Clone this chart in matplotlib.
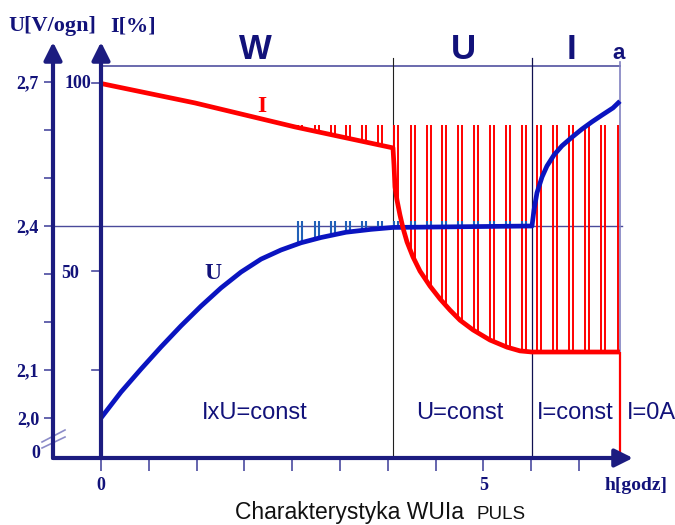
import numpy as np
import matplotlib.pyplot as plt

# charging voltage U [V/cell] against time [h]
u_hours = [0.0, 0.261, 0.523, 0.784, 1.046, 1.307, 1.569, 1.830, 2.092, 2.353,
           2.614, 2.876, 3.203, 3.529, 3.817, 5.634, 5.660, 5.699, 5.765, 5.830,
           5.922, 6.026, 6.157, 6.288, 6.418, 6.549, 6.693, 6.784]
u_volts = [2.000, 2.054, 2.102, 2.148, 2.192, 2.233, 2.271, 2.304, 2.331, 2.350,
           2.365, 2.376, 2.387, 2.393, 2.397, 2.400, 2.433, 2.469, 2.502, 2.525,
           2.548, 2.567, 2.585, 2.602, 2.617, 2.631, 2.646, 2.660]

# charging current I [%] against time [h]
i_hours = [0.0, 1.229, 2.536, 3.817, 3.830, 3.843, 3.869, 3.908, 3.948, 4.000,
           4.078, 4.170, 4.301, 4.431, 4.562, 4.693, 4.863, 5.085, 5.307, 5.477,
           5.634, 6.784]
i_percent = [100, 94.8, 88.4, 82.8, 78.2, 72.4, 68.9, 64.9, 61.4, 57.7,
             53.7, 49.9, 45.9, 42.5, 39.5, 36.8, 34.2, 31.5, 29.6, 28.6,
             28.3, 28.3]

# pulse pairs (start of each pair) [h]
pulse_hours = [2.575, 2.797, 3.007, 3.203, 3.412, 3.621, 3.830, 4.052, 4.261,
               4.458, 4.667, 4.876, 5.085, 5.294, 5.503, 5.699, 5.908, 6.118,
               6.327, 6.536, 6.758]
pulse_top_i = 88.9
pulse_top_u = 2.41

phase_bounds = [3.817, 5.634, 6.784]
phase_names = ["W", "U", "I"]
phase_centers = [2.013, 4.732, 6.157]
mode_texts = ["IxU=const", "U=const", "I=const"]
mode_centers = [2.013, 4.693, 6.196]

u_ticks = [2.0, 2.1, 2.2, 2.3, 2.4, 2.5, 2.6, 2.7]
u_ticklabels = ["2,0", "2,1", "", "", "2,4", "", "", "2,7"]
x_ticks = [0, 0.625, 1.25, 1.875, 2.5, 3.125, 3.75, 4.375, 5.0, 5.625, 6.25]
x_ticklabels = ["0", "", "", "", "", "", "", "", "5", "", ""]

NAVY = "#1c1c80"
TEXT = "#12127a"
TICK = "#4a4aa0"
BLUE = "#0a14c0"
PBLUE = "#2060b8"
RED = "#ff0000"
SANS = "Liberation Sans"
SERIF = "Liberation Serif"

Y_ZERO = 2.0 - 40 / 480
I100 = 2.6969


def i_to_y(i):
    return Y_ZERO + np.asarray(i) / 100 * (I100 - Y_ZERO)


fig = plt.figure(figsize=(6.75, 5.25), dpi=100)
ax = fig.add_axes([53 / 675, 67 / 525, 587 / 675, 418 / 525])
x_left, x_right = -0.6275, 7.046
ax.set_xlim(x_left, x_right)
ax.set_ylim(Y_ZERO, 2.7875)
for s in ax.spines.values():
    s.set_visible(False)

ax.set_yticks(u_ticks)
ax.set_yticklabels(u_ticklabels, fontfamily=SERIF, fontweight="bold")
ax.set_xticks(x_ticks)
ax.set_xticklabels(x_ticklabels, fontfamily=SERIF, fontweight="bold")
ax.tick_params(axis="y", direction="out", length=6.5, width=1.2, color=TICK,
               pad=3.5, labelsize=13, labelcolor=TEXT)
ax.tick_params(axis="x", direction="out", length=9, width=1.2, color=TICK,
               pad=4.5, labelsize=13, labelcolor=TEXT)

# guide lines
end_h = phase_bounds[-1]
ax.plot([x_left, end_h + 0.03], [2.4, 2.4], color="#4a4a9a", lw=1, zorder=1)
ax.plot([0, end_h], [2.7333, 2.7333], color="#5050a0", lw=1.2, zorder=1)
ax.plot([phase_bounds[0]] * 2, [Y_ZERO, 2.75], color="#202020", lw=0.8, zorder=1)
ax.plot([phase_bounds[1]] * 2, [Y_ZERO, 2.75], color="#101050", lw=0.9, zorder=1)
ax.plot([end_h] * 2, [i_to_y(i_percent[-1]), 2.7417], color="#8080c0", lw=1.2, zorder=1)

# pulses
p1 = np.array(pulse_hours)
p_all = np.concatenate([p1, p1[:-1] + 0.052])
red_bottom = i_to_y(np.interp(p_all, i_hours, i_percent))
ax.vlines(p_all, red_bottom, i_to_y(pulse_top_i), color=RED, lw=1.4, zorder=2)
p_blue = p_all[p_all < 5.6]
blue_bottom = np.interp(p_blue, u_hours, u_volts)
ax.vlines(p_blue, blue_bottom, pulse_top_u, color=PBLUE, lw=1.5, zorder=3)

# curves
ax.plot(u_hours, u_volts, color=BLUE, lw=3.4, zorder=4, solid_capstyle="butt",
        solid_joinstyle="round")
ax.plot(i_hours, i_to_y(i_percent), color=RED, lw=3.4, zorder=5,
        solid_capstyle="butt", solid_joinstyle="round")
ax.vlines(end_h, i_to_y(0), i_to_y(i_percent[-1]), color=RED, lw=1.6, zorder=5)

# axes with arrows
arrow = dict(arrowstyle="-|>", lw=3, color=NAVY, mutation_scale=27, shrinkA=0, shrinkB=0)
ax.annotate("", xy=(x_left, 2.7833), xytext=(x_left, Y_ZERO), arrowprops=arrow,
            annotation_clip=False, zorder=6)
ax.annotate("", xy=(0, 2.7833), xytext=(0, Y_ZERO), arrowprops=arrow,
            annotation_clip=False, zorder=6)
ax.annotate("", xy=(6.954, Y_ZERO), xytext=(x_left, Y_ZERO), arrowprops=arrow,
            annotation_clip=False, zorder=6)

# axis break marks
ax.plot([-0.771, -0.4706], [1.9375, 1.9604], color="#8c8cc8", lw=1.2, clip_on=False)
ax.plot([-0.771, -0.4706], [1.95, 1.975], color="#8c8cc8", lw=1.2, clip_on=False)

# I axis ticks
for yy in [i_to_y(100), i_to_y(50), 2.1]:
    ax.plot([-0.118, 0], [yy, yy], color=TICK, lw=1.2, clip_on=False)

# phase labels
for name, cx in zip(phase_names, phase_centers):
    ax.text(cx, 2.768, name, fontfamily=SANS, fontweight="bold", fontsize=25,
            color=TEXT, ha="center", va="center")
ax.text(6.771, 2.759, "a", fontfamily=SANS, fontweight="bold", fontsize=16,
        color=TEXT, ha="center", va="center")
for txt, cx in zip(mode_texts, mode_centers):
    ax.text(cx, 2.011, txt, fontfamily=SANS, fontsize=17, color=TEXT,
            ha="center", va="center")
ax.text(6.876, 2.011, "I=0A", fontfamily=SANS, fontsize=17, color=TEXT,
        ha="left", va="center", clip_on=False)

# curve labels
ax.text(1.464, 2.302, "U", fontfamily=SERIF, fontweight="bold", fontsize=17,
        color=TEXT, ha="center", va="center")
ax.text(2.105, 2.65, "I", fontfamily=SERIF, fontweight="bold", fontsize=17,
        color=RED, ha="center", va="center")


def ftext(px, py, s, **kw):
    fig.text(px / 675, 1 - py / 525, s, **kw)


serif_b = dict(fontfamily=SERIF, fontweight="bold", color=TEXT)
ftext(52, 26, "U[V/ogn]", fontsize=16, ha="center", va="center", **serif_b)
ftext(133, 26, "I[%]", fontsize=16, ha="center", va="center", **serif_b)
ftext(91, 84, "100", fontsize=13, ha="right", va="center", **serif_b)
ftext(70, 273, "50", fontsize=13, ha="center", va="center", **serif_b)
ftext(40, 453, "0", fontsize=13, ha="right", va="center", **serif_b)
ftext(636, 485, "h[godz]", fontsize=14, ha="center", va="center", **serif_b)

ftext(464, 519, "Charakterystyka WUIa", fontfamily=SANS, fontsize=16.5,
      color="#111111", ha="right", va="baseline")
ftext(477, 519, "PULS", fontfamily=SANS, fontsize=13.5, color="#111111",
      ha="left", va="baseline")

fig.savefig("out.png", dpi=100)
